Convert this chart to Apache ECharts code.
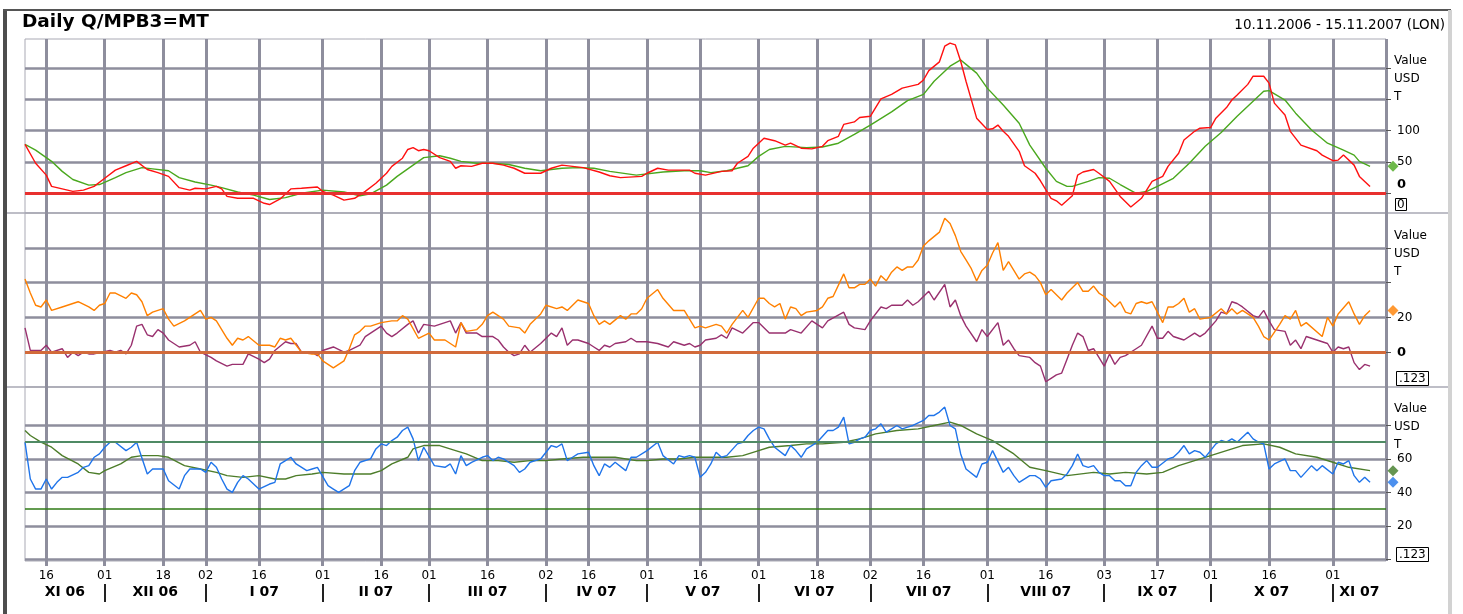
<!DOCTYPE html>
<html><head><meta charset="utf-8">
<script src="https://cdn.jsdelivr.net/npm/echarts@6/dist/echarts.min.js"></script>
<style>html,body{margin:0;padding:0;background:#fff}#c{width:1463px;height:614px}</style>
</head><body><div id="c"></div>
<script>
const FONT = 'DejaVu Sans';
const GRID = '#8e8e9d';

// ---- calendar (London trading days) ----
const startDate = '2006-11-10';
const endDate = '2007-11-15';
const londonHolidays = ['2006-12-25','2006-12-26','2007-01-01','2007-04-06','2007-04-09','2007-05-07','2007-05-28','2007-08-27'];
const dayTickDates = ['2006-11-16','2006-12-01','2006-12-18','2007-01-02','2007-01-16','2007-02-01','2007-02-16','2007-03-01','2007-03-16','2007-04-02','2007-04-16','2007-05-01','2007-05-16','2007-06-01','2007-06-18','2007-07-02','2007-07-16','2007-08-01','2007-08-16','2007-09-03','2007-09-17','2007-10-01','2007-10-16','2007-11-01'];
const monthLabels = ['XI 06','XII 06','I 07','II 07','III 07','IV 07','V 07','VI 07','VII 07','VIII 07','IX 07','X 07','XI 07'];

// ---- series values: [trading-day index, value] ----
const priceLine = [[0,78],[2,48],[4,29],[5,11],[7,7],[9,3],[11,5],[13,11],[15,24],[17,37],[19,44],[21,51],[23,38],[25,33],[27,27],[29,9],[31,5],[32,8],[34,7],[36,11],[37,7],[38,-5],[40,-8],[43,-8],[45,-16],[46,-18],[48,-9],[50,7],[52,8],[55,10],[56,3],[58,-3],[60,-11],[62,-8],[64,3],[66,16],[68,32],[69,43],[71,56],[72,70],[73,73],[74,68],[75,70],[76,68],[78,57],[80,51],[81,40],[82,44],[84,43],[86,48],[88,48],[90,45],[92,40],[94,32],[97,32],[99,40],[101,45],[103,43],[105,41],[108,34],[110,28],[112,25],[116,27],[117,32],[119,40],[121,37],[123,37],[125,37],[126,32],[128,29],[131,35],[133,36],[134,48],[136,59],[137,72],[139,88],[141,84],[143,77],[144,80],[146,72],[148,71],[150,75],[151,84],[153,91],[154,110],[156,114],[157,121],[159,123],[160,137],[161,151],[163,158],[165,168],[168,174],[169,181],[170,196],[172,210],[173,235],[174,240],[175,237],[176,211],[177,179],[179,120],[181,102],[182,103],[183,109],[184,99],[185,91],[187,67],[188,44],[190,32],[191,20],[193,-8],[194,-12],[195,-19],[197,-4],[198,29],[199,34],[201,38],[202,32],[204,19],[206,-5],[208,-22],[210,-8],[212,19],[214,27],[215,43],[217,64],[218,85],[220,99],[221,104],[223,105],[224,120],[226,137],[227,149],[228,157],[230,174],[231,187],[233,187],[234,176],[235,144],[237,125],[238,99],[240,77],[243,68],[244,61],[246,52],[247,53],[248,61],[250,45],[251,27],[253,11]];
const priceAverage = [[0,78],[2,69],[5,51],[7,35],[9,22],[12,13],[14,14],[17,25],[19,33],[22,41],[24,39],[27,36],[29,25],[32,18],[35,13],[37,9],[40,2],[43,-3],[46,-10],[49,-7],[52,0],[56,5],[60,2],[63,-4],[65,-1],[68,13],[70,27],[73,45],[75,57],[78,60],[80,56],[82,51],[85,48],[88,48],[91,46],[94,40],[97,36],[101,40],[104,41],[107,40],[110,35],[115,29],[120,34],[124,36],[127,36],[129,33],[132,36],[136,44],[138,59],[140,70],[143,75],[147,73],[150,74],[153,80],[156,94],[159,109],[163,130],[166,148],[169,158],[171,179],[174,203],[176,213],[177,206],[179,192],[181,168],[184,141],[187,112],[189,77],[192,40],[194,19],[196,11],[197,11],[200,19],[202,25],[204,24],[206,14],[209,0],[211,3],[213,11],[216,24],[219,48],[222,75],[225,97],[228,123],[231,147],[233,163],[234,164],[237,149],[239,128],[242,101],[245,80],[248,69],[250,61],[251,51],[253,43]];
const oscOrange = [[0,42],[1,34],[2,27],[3,26],[4,30],[5,24],[7,26],[8,27],[9,28],[10,29],[12,26],[13,24],[14,27],[15,28],[16,34],[17,34],[19,31],[20,34],[21,33],[22,29],[23,21],[24,23],[26,25],[27,19],[28,15],[30,18],[31,20],[33,24],[34,19],[35,20],[36,18],[38,8],[39,4],[40,8],[41,7],[42,9],[44,4],[46,4],[47,3],[48,8],[49,7],[50,8],[52,0],[54,-1],[55,-1],[56,-5],[58,-9],[60,-5],[61,2],[62,10],[63,12],[64,15],[65,15],[67,17],[69,18],[70,18],[71,21],[72,19],[74,8],[76,11],[77,7],[79,7],[81,3],[82,17],[83,12],[85,13],[86,16],[87,21],[88,23],[90,19],[91,15],[93,14],[94,11],[95,16],[97,22],[98,27],[100,25],[101,26],[102,24],[104,30],[106,28],[107,21],[108,16],[109,18],[110,16],[112,21],[113,19],[114,22],[115,22],[116,25],[117,31],[119,36],[120,31],[122,24],[124,24],[125,19],[126,14],[127,15],[128,14],[130,16],[131,15],[132,11],[133,16],[135,24],[136,20],[138,31],[139,31],[140,28],[141,26],[142,28],[143,19],[144,26],[145,25],[146,21],[147,23],[149,24],[150,26],[151,31],[152,32],[154,45],[155,37],[156,37],[157,39],[158,39],[159,42],[160,38],[161,44],[162,41],[163,46],[164,49],[165,47],[166,49],[167,49],[168,53],[169,61],[170,64],[172,69],[173,77],[174,74],[175,67],[176,58],[177,53],[178,48],[179,41],[180,47],[181,50],[182,57],[183,63],[184,47],[185,52],[186,47],[187,42],[188,45],[189,46],[190,44],[191,40],[192,33],[193,36],[195,30],[196,34],[198,40],[199,35],[200,35],[201,38],[202,34],[203,32],[205,26],[206,29],[207,23],[208,22],[209,28],[210,29],[211,28],[212,29],[213,23],[214,17],[215,26],[216,26],[217,28],[218,31],[219,23],[220,25],[221,19],[223,20],[225,25],[226,22],[227,25],[228,22],[229,24],[231,20],[232,15],[233,9],[234,7],[236,16],[237,21],[238,19],[239,24],[240,15],[241,17],[244,9],[245,20],[246,15],[247,22],[249,29],[250,22],[251,16],[252,21],[253,24]];
const oscPurple = [[0,14],[1,1],[3,1],[4,4],[5,0],[7,2],[8,-3],[9,0],[10,-2],[11,0],[12,-1],[13,-1],[16,1],[17,0],[18,1],[19,-1],[20,4],[21,15],[22,16],[23,10],[24,9],[25,13],[26,11],[27,7],[29,3],[31,4],[32,6],[33,0],[35,-3],[36,-5],[38,-8],[39,-7],[41,-7],[42,-1],[44,-4],[45,-6],[46,-4],[47,1],[49,6],[50,5],[51,5],[52,0],[54,0],[55,-2],[56,1],[57,2],[58,3],[60,0],[61,1],[63,4],[64,9],[65,11],[67,15],[68,11],[69,9],[70,11],[72,16],[73,18],[74,11],[75,16],[77,15],[79,17],[80,18],[81,11],[82,17],[83,11],[85,11],[86,9],[88,9],[89,7],[90,3],[91,0],[92,-2],[93,-1],[94,4],[95,0],[97,5],[98,8],[99,11],[100,9],[101,14],[102,4],[103,7],[104,7],[106,5],[107,3],[108,1],[109,4],[110,3],[111,5],[113,6],[114,8],[115,6],[117,6],[119,5],[121,3],[122,6],[124,4],[125,5],[126,3],[127,4],[128,7],[130,8],[131,10],[132,8],[133,14],[135,11],[137,17],[138,17],[140,11],[143,11],[144,13],[146,11],[148,18],[149,16],[150,14],[151,18],[154,23],[155,16],[156,14],[158,13],[159,18],[161,26],[162,25],[163,27],[165,27],[166,30],[167,27],[168,29],[170,35],[171,30],[173,39],[174,26],[175,30],[176,21],[177,15],[179,6],[180,13],[181,9],[183,17],[184,4],[185,7],[186,2],[187,-2],[189,-3],[190,-6],[191,-8],[192,-17],[193,-15],[194,-13],[195,-12],[196,-4],[197,4],[198,11],[199,9],[200,1],[201,2],[203,-8],[204,-1],[205,-7],[206,-3],[207,-2],[209,2],[210,4],[212,15],[213,8],[214,8],[215,12],[216,9],[218,7],[220,11],[221,9],[222,11],[224,18],[225,23],[226,22],[227,29],[228,28],[229,26],[231,21],[232,20],[233,24],[234,18],[235,13],[237,12],[238,4],[239,7],[240,2],[241,9],[243,7],[245,5],[246,0],[247,3],[248,2],[249,3],[250,-6],[251,-10],[252,-7],[253,-8]];
const rsiBlue = [[0,70],[1,48],[2,42],[3,42],[4,48],[5,42],[6,46],[7,49],[8,49],[10,52],[11,55],[12,56],[13,61],[14,63],[15,67],[16,70],[17,70],[19,65],[20,67],[21,70],[23,51],[24,54],[26,54],[27,47],[29,42],[30,50],[31,54],[33,54],[34,52],[35,58],[36,55],[37,48],[38,42],[39,40],[40,46],[41,50],[42,48],[44,42],[46,45],[47,46],[48,57],[49,59],[50,61],[51,57],[53,53],[54,54],[55,55],[57,44],[58,42],[59,40],[61,44],[62,53],[63,58],[65,60],[66,66],[67,69],[68,68],[69,71],[70,73],[71,77],[72,79],[73,72],[74,59],[75,67],[77,56],[79,55],[80,57],[81,51],[82,62],[83,56],[84,58],[86,61],[87,62],[88,59],[89,61],[90,60],[92,56],[93,52],[94,54],[95,58],[97,60],[98,64],[99,68],[100,67],[101,69],[102,59],[103,61],[104,63],[106,64],[107,56],[108,50],[109,57],[110,55],[111,58],[113,53],[114,61],[115,61],[117,65],[119,70],[120,62],[122,57],[123,62],[124,61],[125,62],[126,61],[127,49],[128,52],[129,57],[130,64],[131,61],[132,62],[134,69],[135,70],[136,74],[137,77],[138,79],[139,78],[140,72],[141,67],[143,62],[144,68],[145,65],[146,61],[147,66],[148,68],[149,70],[151,77],[152,77],[153,79],[154,85],[155,69],[156,70],[157,72],[158,73],[159,77],[160,78],[161,81],[162,76],[163,78],[164,80],[165,78],[166,79],[167,80],[169,83],[170,86],[171,86],[172,88],[173,91],[174,80],[175,78],[176,63],[177,54],[179,49],[180,57],[181,58],[182,65],[184,52],[185,55],[186,50],[187,46],[189,50],[190,50],[191,48],[192,43],[193,47],[195,48],[196,51],[197,56],[198,63],[199,56],[200,55],[201,56],[202,52],[203,50],[204,50],[205,47],[206,47],[207,44],[208,44],[209,52],[210,56],[211,59],[212,55],[213,55],[215,60],[216,61],[217,64],[218,68],[219,63],[220,65],[221,64],[222,61],[223,65],[224,69],[225,71],[226,70],[227,72],[228,70],[229,73],[230,76],[231,72],[232,70],[233,69],[234,54],[235,57],[237,60],[238,53],[239,53],[240,49],[242,56],[243,53],[244,56],[246,51],[247,58],[248,57],[249,59],[250,50],[251,46],[252,49],[253,46]];
const rsiAverage = [[0,77],[1,74],[3,70],[5,67],[7,62],[10,57],[12,52],[14,51],[15,53],[18,57],[20,61],[22,62],[25,62],[27,61],[30,56],[33,54],[36,52],[38,50],[41,49],[44,50],[47,48],[49,48],[51,50],[54,51],[56,52],[60,51],[65,51],[67,53],[69,57],[72,61],[73,66],[75,68],[78,68],[81,65],[83,63],[86,59],[89,59],[92,58],[95,59],[98,59],[101,60],[105,61],[108,61],[111,61],[115,59],[117,59],[120,60],[123,60],[126,61],[129,61],[132,61],[135,62],[138,65],[140,67],[144,68],[147,69],[150,69],[154,70],[157,72],[160,75],[164,77],[168,78],[171,80],[174,82],[176,80],[179,75],[182,71],[186,63],[189,55],[192,53],[196,50],[201,52],[204,51],[207,52],[211,51],[214,52],[217,56],[220,59],[223,62],[226,65],[229,68],[233,69],[236,67],[239,63],[243,61],[246,58],[249,55],[253,53]];

// ---- axis scales / tick labels ----
const p1Range = [-31.5, 246.5], p1Grid = [0, 50, 100, 150, 200], p1Labels = [0, 50, 100];
const p2Range = [-20, 80], p2Grid = [0, 20, 40, 60], p2Labels = [0, 20];
const p3Range = [-1, 103], p3Grid = [0, 20, 40, 60, 80], p3Labels = [20, 40, 60];
const rsiBands = [70, 30];

// ---- build calendar ----
function tradingDays() {
  const out = [];
  let t = Date.parse(startDate + 'T00:00:00Z');
  const end = Date.parse(endDate + 'T00:00:00Z');
  while (t <= end) {
    const d = new Date(t);
    const wd = d.getUTCDay();
    const s = d.toISOString().slice(0, 10);
    if (wd !== 0 && wd !== 6 && !londonHolidays.includes(s)) out.push(s);
    t += 86400000;
  }
  return out;
}
const dates = tradingDays();
const LAST = dates.length - 1;
const dayTickIdx = new Set(dayTickDates.map(d => dates.indexOf(d)));
const monthStarts = [];
for (let i = 1; i < dates.length; i++) if (dates[i].slice(0, 7) !== dates[i - 1].slice(0, 7)) monthStarts.push(i);
const segStarts = [0].concat(monthStarts), segEnds = monthStarts.concat([LAST]);
const halfCats = Array.from({length: 2 * LAST + 1}, (_, j) => j);
const monthAt = {}; segStarts.forEach((s, k) => { monthAt[s + segEnds[k]] = monthLabels[k]; });
const sepAt = new Set(monthStarts.map(i => 2 * i));

// ---- option ----
const grids = [
  {left: 25, right: 77, top: 39, height: 174},
  {left: 25, right: 77, top: 213, height: 174},
  {left: 25, right: 77, top: 387, height: 174}
].map(g => Object.assign(g, {show: true, borderColor: '#a9a9b4', borderWidth: 1, backgroundColor: 'transparent'}));

function catAxis(gi, bottom) {
  return {
    type: 'category', gridIndex: gi, data: dates, boundaryGap: false, position: 'bottom',
    axisLine: {show: false, onZero: false},
    axisTick: {show: bottom, interval: i => dayTickIdx.has(i), length: 5, lineStyle: {color: GRID, width: 3}},
    axisLabel: {show: bottom, interval: i => dayTickIdx.has(i), formatter: v => v.slice(8, 10), margin: 9,
      fontFamily: FONT, fontSize: 12, color: '#000'},
    splitLine: {show: true, interval: i => dayTickIdx.has(i) || i === LAST, lineStyle: {color: GRID, width: 3}}
  };
}
function valX(gi) { return {type: 'value', gridIndex: gi, min: 0, max: LAST, show: false, axisLine: {onZero: false}, splitLine: {show: false}}; }
function yAx(gi, range, gridVals, labelVals, zeroPad) {
  return {
    type: 'value', gridIndex: gi, position: 'right', min: range[0], max: range[1],
    axisLine: {show: false, onZero: false},
    axisTick: {show: true, customValues: gridVals, length: 5, lineStyle: {color: '#555', width: 1}},
    axisLabel: {customValues: labelVals, margin: 11, fontFamily: FONT, fontSize: 12, color: '#000',
      formatter: v => v === 0 ? '{z|0}' : String(v),
      rich: {z: {fontFamily: FONT, fontSize: 13, fontWeight: 'bold', color: '#000', padding: zeroPad}}},
    splitLine: {show: true, lineStyle: {color: GRID, width: 2.5}}
  };
}
function mk(vals, colors, widths) {
  return {silent: true, symbol: 'none', animation: false, label: {show: false},
    data: vals.map((v, k) => ({yAxis: v, lineStyle: {color: colors[k], width: widths[k], type: 'solid'}}))};
}
function ln(name, data, color, xi, yi, extra) {
  return Object.assign({name, type: 'line', data, xAxisIndex: xi, yAxisIndex: yi, symbol: 'none',
    lineStyle: {color, width: 1.4}, itemStyle: {color}, z: 3, silent: true, animation: false}, extra || {});
}
function tip(data, color, xi, yi) {
  return {type: 'scatter', xAxisIndex: xi, yAxisIndex: yi, data: [[LAST, data[data.length - 1][1]]],
    symbol: 'diamond', symbolSize: 11, symbolOffset: [7, 0], itemStyle: {color}, clip: false, z: 6, silent: true, animation: false};
}

const option = {
  backgroundColor: '#fff',
  animation: false,
  textStyle: {fontFamily: FONT},
  title: [
    {text: 'Daily Q/MPB3=MT', left: 22, top: 13, padding: 0, textStyle: {fontFamily: FONT, fontSize: 18.5, fontWeight: 'bold', color: '#000'}},
    {text: '10.11.2006 - 15.11.2007 (LON)', right: 18, top: 18, padding: 0, textStyle: {fontFamily: FONT, fontSize: 13.5, fontWeight: 'normal', color: '#000'}},
    {text: 'Value\nUSD\nT', left: 1394, top: 52, padding: 0, textStyle: {fontFamily: FONT, fontSize: 12, fontWeight: 'normal', lineHeight: 18, color: '#000'}},
    {text: 'Value\nUSD\nT', left: 1394, top: 227, padding: 0, textStyle: {fontFamily: FONT, fontSize: 12, fontWeight: 'normal', lineHeight: 18, color: '#000'}},
    {text: 'Value\nUSD\nT', left: 1394, top: 400, padding: 0, textStyle: {fontFamily: FONT, fontSize: 12, fontWeight: 'normal', lineHeight: 18, color: '#000'}},
    {text: '0', left: 1395, top: 198, padding: [0, 2, 0, 2], borderColor: '#000', borderWidth: 1, textStyle: {fontFamily: FONT, fontSize: 12, fontWeight: 'normal', lineHeight: 13, color: '#000'}},
    {text: '.123', left: 1396, top: 371, padding: [1, 3, 1, 3], borderColor: '#000', borderWidth: 1, textStyle: {fontFamily: FONT, fontSize: 12, fontWeight: 'normal', lineHeight: 13, color: '#000'}},
    {text: '.123', left: 1396, top: 547, padding: [1, 3, 1, 3], borderColor: '#000', borderWidth: 1, textStyle: {fontFamily: FONT, fontSize: 12, fontWeight: 'normal', lineHeight: 13, color: '#000'}}
  ],
  graphic: [
    {type: 'rect', silent: true, z: -10, shape: {x: 3, y: 9, width: 4, height: 605}, style: {fill: '#4d4d4d'}},
    {type: 'line', silent: true, z: -10, shape: {x1: 3, y1: 10, x2: 1451, y2: 10}, style: {stroke: '#555', lineWidth: 2}},
    {type: 'rect', silent: true, z: -10, shape: {x: 1448, y: 10, width: 4, height: 604}, style: {fill: '#d2d2d2'}},
    {type: 'line', silent: true, z: -10, shape: {x1: 7, y1: 213, x2: 1448, y2: 213}, style: {stroke: '#a9a9b4', lineWidth: 1.5}},
    {type: 'line', silent: true, z: -10, shape: {x1: 7, y1: 387, x2: 1448, y2: 387}, style: {stroke: '#a9a9b4', lineWidth: 1.5}}
  ],
  grid: grids,
  xAxis: [
    catAxis(0, false), valX(0),
    catAxis(1, false), valX(1),
    catAxis(2, true), valX(2),
    {type: 'category', gridIndex: 2, data: halfCats, boundaryGap: false, position: 'bottom', offset: 23,
      axisLine: {show: false, onZero: false},
      axisTick: {show: true, interval: j => sepAt.has(j), length: 18, lineStyle: {color: '#222', width: 2}},
      axisLabel: {show: true, interval: j => monthAt[j] !== undefined, formatter: (v, j) => monthAt[j] || '', margin: 1,
        fontFamily: FONT, fontSize: 14, fontWeight: 'bold', color: '#000'},
      splitLine: {show: false}}
  ],
  yAxis: [
    yAx(0, p1Range, p1Grid, p1Labels, [0, 0, 18, 0]),
    yAx(1, p2Range, p2Grid, p2Labels, [0, 0, 0, 0]),
    yAx(2, p3Range, p3Grid, p3Labels, [0, 0, 0, 0])
  ],
  series: [
    ln('Average', priceAverage, '#4aa81e', 1, 0, {markLine: mk([0], ['#e8302f'], [3])}),
    ln('Price', priceLine, '#ff1010', 1, 0),
    tip(priceAverage, '#4aa81e', 1, 0),
    ln('Osc 2', oscPurple, '#99306e', 3, 1, {markLine: mk([0], ['#d26a3a'], [3])}),
    ln('Osc 1', oscOrange, '#ff8000', 3, 1),
    tip(oscOrange, '#ff8000', 3, 1),
    ln('RSI avg', rsiAverage, '#4d7d2a', 5, 2, {markLine: mk(rsiBands, ['#4f8a64', '#2f7a16'], [2, 1.5])}),
    ln('RSI', rsiBlue, '#1f74ea', 5, 2),
    tip(rsiAverage, '#3f7a26', 5, 2),
    tip(rsiBlue, '#1f74ea', 5, 2)
  ]
};
const chart = echarts.init(document.getElementById('c'), null, {renderer: 'canvas'});
chart.setOption(option);
</script>
</body></html>
